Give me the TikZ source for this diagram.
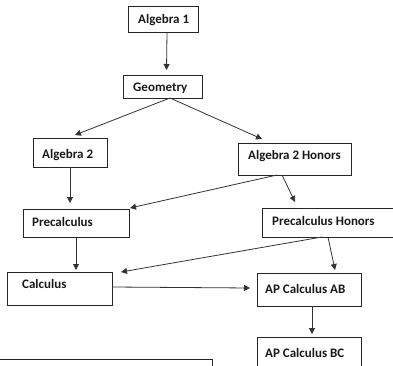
\documentclass[tikz,border=0pt]{standalone}
\usepackage{fontspec}
\setmainfont{Carlito}
\usetikzlibrary{arrows.meta}
\begin{document}
\begin{tikzpicture}[x=1pt,y=-1pt,
  box/.style={draw=black!85, line width=0.9pt, anchor=north west, inner sep=0pt, outer sep=0pt},
  lbl/.style={font=\fontsize{13}{15}\selectfont\bfseries, inner sep=0pt, anchor=base west, text=black!90},
  conn/.style={draw=black!80, line width=0.8pt, -{Triangle[length=6pt,width=6pt]}}]
\useasboundingbox (0,0) rectangle (393,366);
% boxes
\node[box, minimum width=70pt, minimum height=26pt] (a1) at (128,6) {};
\node[box, minimum width=79pt, minimum height=23pt] (geo) at (123,75) {};
\node[box, minimum width=74pt, minimum height=29pt] (a2) at (33,138) {};
\node[box, minimum width=113pt, minimum height=32pt] (a2h) at (238,143) {};
\node[box, minimum width=106pt, minimum height=28pt] (pre) at (23,209) {};
\node[box, minimum width=140pt, minimum height=29pt] (preh) at (262,208) {};
\node[box, minimum width=105pt, minimum height=33pt] (calc) at (7,272) {};
\node[box, minimum width=104pt, minimum height=33pt] (apab) at (257,273) {};
\node[box, minimum width=104pt, minimum height=33pt] (apbc) at (257,337) {};
\node[box, minimum width=217pt, minimum height=20pt] (note) at (-5,359) {};
% labels
\node[lbl] (ta1) at ([xshift=10pt,yshift=-17.5pt]a1.north west) {Algebra 1};
\node[lbl] (tgeo) at ([xshift=10pt,yshift=-16.7pt]geo.north west) {Geometry};
\node[lbl] (ta2) at ([xshift=9pt,yshift=-20.3pt]a2.north west) {Algebra 2};
\node[lbl] (ta2h) at ([xshift=10pt,yshift=-17pt]a2h.north west) {Algebra 2 Honors};
\node[lbl] (tpre) at ([xshift=9pt,yshift=-17pt]pre.north west) {Precalculus};
\node[lbl] (tpreh) at ([xshift=10pt,yshift=-17pt]preh.north west) {Precalculus Honors};
\node[lbl] (tcalc) at ([xshift=15pt,yshift=-16pt]calc.north west) {Calculus};
\node[lbl] (tapab) at ([xshift=8pt,yshift=-20pt]apab.north west) {AP Calculus AB};
\node[lbl] (tapbc) at ([xshift=8pt,yshift=-20pt]apbc.north west) {AP Calculus BC};
% connectors
\draw[conn] ([xshift=4pt]a1.south) -- ([xshift=4pt,yshift=5pt]geo.north);
\draw[conn] ([xshift=7.5pt]geo.south) -- ([xshift=5pt,yshift=3pt]a2.north);
\draw[conn] ([xshift=7.5pt]geo.south) -- ([xshift=-32.5pt,yshift=4pt]a2h.north);
\draw[conn] (a2.south) -- ([xshift=-6pt,yshift=6pt]pre.north);
\draw[conn] ([xshift=-17.5pt]a2h.south) -- ([xshift=1pt,yshift=1pt]pre.north east);
\draw[conn] ([xshift=-12.5pt]a2h.south) -- ([xshift=-37pt,yshift=6pt]preh.north);
\draw[conn] (pre.south) -- ([xshift=16.5pt,yshift=2pt]calc.north);
\draw[conn] ([xshift=-10pt]preh.south) -- ([xshift=9pt]calc.north east);
\draw[conn] ([xshift=-4pt]preh.south) -- ([xshift=26pt,yshift=3pt]apab.north);
\draw[conn] ([yshift=1.5pt]calc.east) -- ([xshift=-7pt,yshift=1.5pt]apab.west);
\draw[conn] ([xshift=3pt]apab.south) -- ([xshift=3pt,yshift=3pt]apbc.north);
\end{tikzpicture}
\end{document}
